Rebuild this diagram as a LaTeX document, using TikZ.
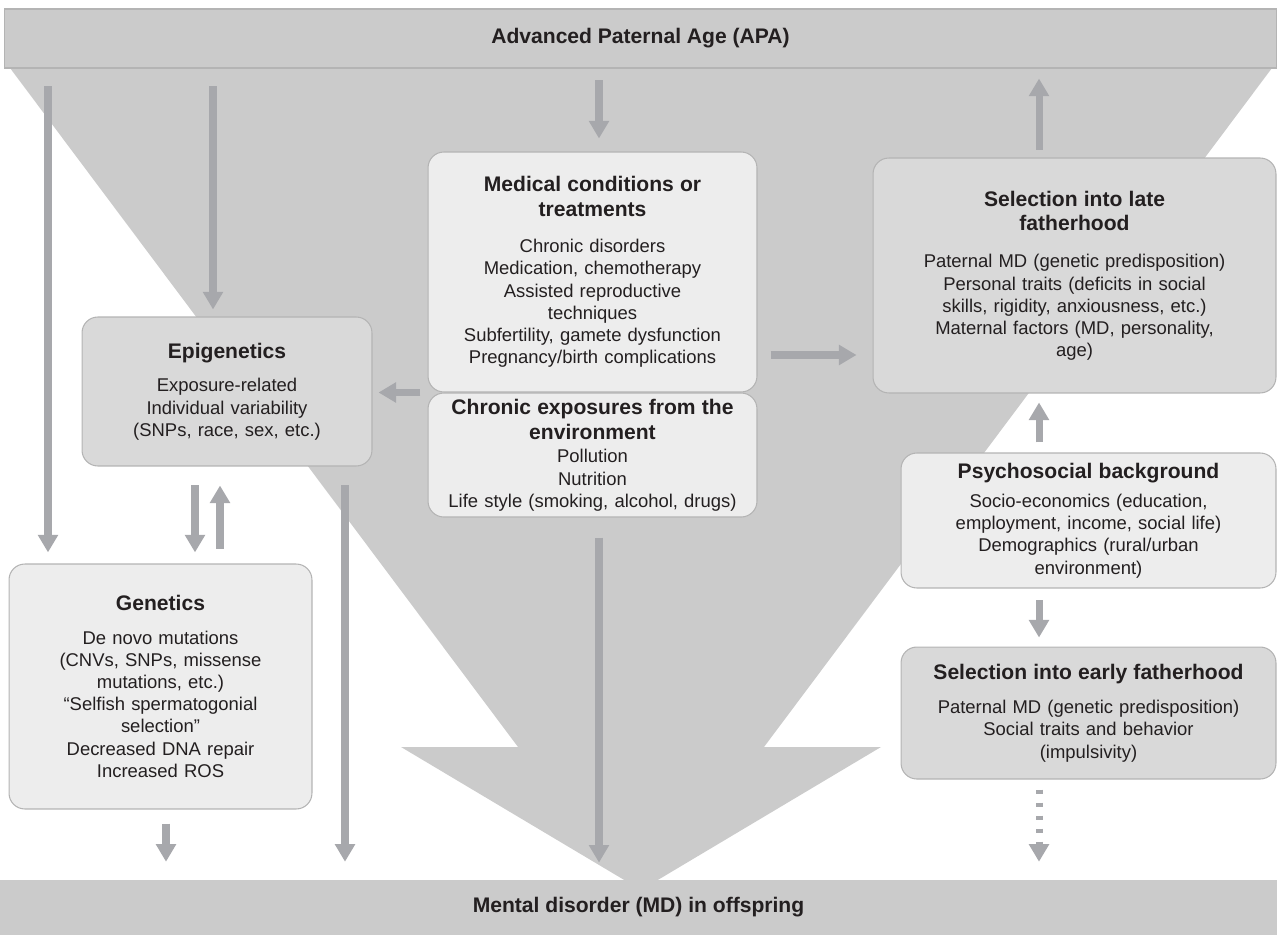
\documentclass[tikz,border=0pt]{standalone}
\usepackage{fontspec}
\setmainfont{Liberation Sans}
\usetikzlibrary{positioning,arrows.meta}

\definecolor{funnelgray}{HTML}{CBCBCB}
\definecolor{arrowgray}{HTML}{A7A8AC}
\definecolor{lightbox}{HTML}{EDEDED}
\definecolor{darkbox}{HTML}{D9D9D9}
\definecolor{boxline}{HTML}{B4B4B4}
\definecolor{inkblack}{HTML}{231F20}

\newcommand{\ttl}[1]{{\fontsize{12}{14}\selectfont\bfseries #1}}

\tikzset{
  factor/.style={draw=boxline, line width=0.6pt, rounded corners=9pt, align=center,
    inner sep=0pt, text=inkblack, font=\fontsize{10.5}{12.6}\selectfont},
  lightfactor/.style={factor, fill=lightbox},
  darkfactor/.style={factor, fill=darkbox},
  bar/.style={fill=funnelgray, text=inkblack, inner sep=0pt,
    font=\fontsize{12}{14}\selectfont\bfseries},
  arr/.style={draw=arrowgray, line width=4pt, -{Triangle[width=11pt,length=10pt]}},
}

\begin{document}
\begin{tikzpicture}[x=0.02cm,y=-0.02cm]
	\useasboundingbox (0,0) rectangle (1277,935);
	
	% the funnel from APA down to the offspring
	\fill[funnelgray] (10,68) -- (1272,68) -- (764,747) -- (881,747) -- (641,890)
	-- (401,747) -- (518,747) -- cycle;
	
	\node[bar, draw=boxline, line width=0.6pt, minimum width=25.46cm, minimum height=1.18cm] (apa) at (640.5,38.5) {Advanced Paternal Age (APA)};
	\node[bar, minimum width=25.54cm, minimum height=1.1cm] (md) at (638.5,907.5) {Mental disorder (MD) in offspring};
	
	% boxes
	\node[lightfactor, minimum width=6.58cm, minimum height=4.8cm, text width=6.3cm] (med) at (592.5,272)
	{\ttl{Medical conditions or\\[1.5pt]treatments}\\[8pt]Chronic disorders\\Medication, chemotherapy\\Assisted reproductive\\techniques\\Subfertility, gamete dysfunction\\Pregnancy/birth complications};
	\node[lightfactor, minimum width=6.58cm, minimum height=2.48cm, text width=6.3cm, below=0pt of med] (env)
	{\ttl{Chronic exposures from the\\[1.5pt]environment}\\[1pt]Pollution\\Nutrition\\Life style (smoking, alcohol, drugs)};
	\node[darkfactor, minimum width=5.8cm, minimum height=2.98cm, text width=5.5cm] (epi) at (227,391.5)
	{\ttl{Epigenetics}\\[6.5pt]Exposure-related\\Individual variability\\(SNPs, race, sex, etc.)};
	\node[lightfactor, minimum width=6.06cm, minimum height=4.9cm, text width=5.8cm] (gen) at (160.5,686.5)
	{\ttl{Genetics}\\[6.5pt]De novo mutations\\(CNVs, SNPs, missense\\mutations, etc.)\\``Selfish spermatogonial\\selection''\\Decreased DNA repair\\Increased ROS};
	\node[darkfactor, minimum width=8.06cm, minimum height=4.7cm, text width=7.8cm] (late) at (1074.5,275.5)
	{\ttl{Selection into late\\[1.5pt]fatherhood}\\[8.5pt]Paternal MD (genetic predisposition)\\Personal traits (deficits in social\\skills, rigidity, anxiousness, etc.)\\Maternal factors (MD, personality,\\age)};
	\node[lightfactor, minimum width=7.5cm, minimum height=2.7cm, text width=7.2cm] (psy) at (1088.5,520.5)
	{\ttl{Psychosocial background}\\[4pt]Socio-economics (education,\\employment, income, social life)\\Demographics (rural/urban\\environment)};
	\node[darkfactor, minimum width=7.5cm, minimum height=2.64cm, text width=7.2cm, below=1.16cm of psy] (early)
	{\ttl{Selection into early fatherhood}\\[7pt]Paternal MD (genetic predisposition)\\Social traits and behavior\\(impulsivity)};
	
	% columns and rows of the arrows
	\coordinate (colA) at (48,0);
	\coordinate (colB) at (213,0);
	\coordinate (colC) at (599,0);
	\coordinate (colD) at (1039,0);
	\coordinate (colE) at (195,0);
	\coordinate (colF) at (220,0);
	\coordinate (colG) at (345,0);
	\coordinate (colH) at (166,0);
	\coordinate (rowA) at (0,355);
	
	\draw[arr, shorten <=10pt, shorten >=6.3pt] (apa.south -| colA) -- (gen.north -| colA);
	\draw[arr, shorten <=10pt, shorten >=4pt] (apa.south -| colB) -- (epi.north -| colB);
	\draw[arr, shorten <=6.8pt, shorten >=7.4pt] (apa.south -| colC) -- (med.north -| colC);
	\draw[arr, shorten <=4.5pt, shorten >=5.7pt] (late.north -| colD) -- (apa.south -| colD);
	\draw[arr, shorten <=7.4pt, shorten >=9.1pt] (med.east |- rowA) -- (late.west |- rowA);
	\draw[arr, shorten <=4pt, shorten >=3.4pt] (med.south west) -- (epi.east |- med.south);
	\draw[arr, shorten <=10.8pt, shorten >=6.3pt] (epi.south -| colE) -- (gen.north -| colE);
	\draw[arr, shorten <=8.5pt, shorten >=10.8pt] (gen.north -| colF) -- (epi.south -| colF);
	\draw[arr, shorten <=10.8pt, shorten >=10.2pt] (epi.south -| colG) -- (md.north -| colG);
	\draw[arr, shorten <=8pt, shorten >=10.2pt] (gen.south -| colH) -- (md.north -| colH);
	\draw[arr, shorten <=11.4pt, shorten >=9.7pt] (env.south -| colC) -- (md.north -| colC);
	\draw[arr, shorten <=5.7pt, shorten >=5.1pt] (psy.north -| colD) -- (late.south -| colD);
	\draw[arr, shorten <=6.8pt, shorten >=5.1pt] (psy.south -| colD) -- (early.north -| colD);
	\draw[arr, dash pattern=on 2.8pt off 4.6pt, shorten <=5.7pt, shorten >=10.2pt] (early.south -| colD) -- (md.north -| colD);
\end{tikzpicture}
\end{document}
